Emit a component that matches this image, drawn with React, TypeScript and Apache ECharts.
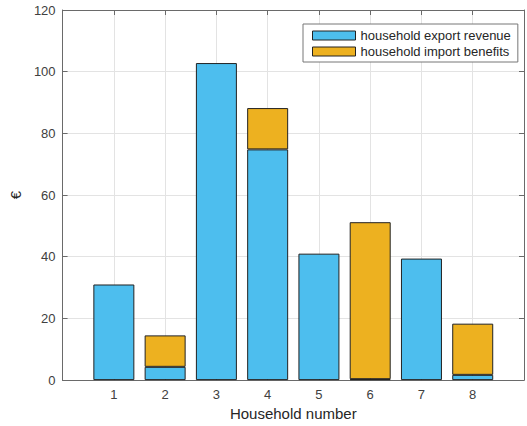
import React, { useEffect, useRef } from "react";
import * as echarts from "echarts";

const axisSlots = ["0", "1", "2", "3", "4", "5", "6", "7", "8", "9"];
const households = ["1", "2", "3", "4", "5", "6", "7", "8"];
const exportRevenue = [31, 4.3, 102.8, 74.8, 41, 0.3, 39.4, 1.7];
const importBenefits = [0, 10.2, 0, 13.4, 0, 50.9, 0, 16.6];
const yTicks = [0, 20, 40, 60, 80, 100, 120];

const FONT = "'Liberation Sans', Arial, Helvetica, sans-serif";
const AXIS = "#6a6a6a";
const LABEL = "#404040";
const GRID = "#e3e3e3";

function toSlots(values: number[]) {
  return axisSlots.map((s) => {
    const i = households.indexOf(s);
    return i >= 0 && values[i] !== 0 ? values[i] : "-";
  });
}

export default function App() {
  const ref = useRef<HTMLDivElement>(null);
  useEffect(() => {
    if (!ref.current) return;
    const chart = echarts.init(ref.current, undefined, { renderer: "svg" });
    const commonX = {
      type: "category" as const,
      data: axisSlots,
      boundaryGap: false,
    };
    const commonY = {
      type: "value" as const,
      min: yTicks[0],
      max: yTicks[yTicks.length - 1],
      interval: 20,
    };
    chart.setOption({
      animation: false,
      textStyle: { fontFamily: FONT },
      grid: { left: 59.5, top: 10, width: 469, height: 371, containLabel: false },
      legend: {
        orient: "vertical",
        left: 303,
        top: 24,
        itemWidth: 43,
        itemHeight: 9,
        itemGap: 3,
        padding: [5, 7, 4, 9],
        borderColor: "#777",
        borderWidth: 1,
        borderRadius: 0,
        backgroundColor: "#fff",
        icon: "rect",
        itemStyle: { borderColor: "#222", borderWidth: 1 },
        textStyle: { fontSize: 13, color: "#262626", fontFamily: FONT },
        data: ["household export revenue", "household import benefits"],
      },
      xAxis: [
        {
          ...commonX,
          position: "bottom",
          name: "Household number",
          nameLocation: "middle",
          nameGap: 24,
          nameTextStyle: { fontSize: 15, color: "#262626", fontFamily: FONT },
          axisLine: { show: true, onZero: false, lineStyle: { color: AXIS, width: 1 } },
          axisTick: { show: true, inside: true, length: 5, interval: 0, lineStyle: { color: AXIS } },
          axisLabel: {
            fontSize: 13,
            color: LABEL,
            margin: 8,
            interval: 0,
            fontFamily: FONT,
            formatter: (v: string) => (households.indexOf(v) >= 0 ? v : ""),
          },
          splitLine: { show: true, interval: 0, lineStyle: { color: GRID, width: 1 } },
        },
        {
          ...commonX,
          position: "top",
          axisLine: { show: true, onZero: false, lineStyle: { color: AXIS, width: 1 } },
          axisTick: { show: true, inside: true, length: 5, interval: 0, lineStyle: { color: AXIS } },
          axisLabel: { show: false },
          splitLine: { show: false },
        },
      ],
      yAxis: [
        {
          ...commonY,
          position: "left",
          name: "€",
          nameLocation: "middle",
          nameGap: 37,
          nameRotate: 90,
          nameTextStyle: { fontSize: 15, color: "#262626", fontFamily: FONT },
          axisLine: { show: true, onZero: false, lineStyle: { color: AXIS, width: 1 } },
          axisTick: { show: true, inside: true, length: 5, lineStyle: { color: AXIS } },
          axisLabel: { fontSize: 13, color: LABEL, margin: 7, fontFamily: FONT },
          splitLine: { show: true, lineStyle: { color: GRID, width: 1 } },
        },
        {
          ...commonY,
          position: "right",
          axisLine: { show: true, onZero: false, lineStyle: { color: AXIS, width: 1 } },
          axisTick: { show: true, inside: true, length: 5, lineStyle: { color: AXIS } },
          axisLabel: { show: false },
          splitLine: { show: false },
        },
      ],
      series: [
        {
          name: "household export revenue",
          type: "bar",
          stack: "total",
          xAxisIndex: 0,
          yAxisIndex: 0,
          barWidth: 41,
          itemStyle: { color: "#4DBEEE", borderColor: "#222", borderWidth: 1 },
          data: toSlots(exportRevenue),
        },
        {
          name: "household import benefits",
          type: "bar",
          stack: "total",
          xAxisIndex: 0,
          yAxisIndex: 0,
          barWidth: 41,
          itemStyle: { color: "#EDB120", borderColor: "#222", borderWidth: 1 },
          data: toSlots(importBenefits),
        },
      ],
    });
    return () => chart.dispose();
  }, []);
  return (
    <div
      ref={ref}
      style={{ position: "absolute", left: 0, top: 0, width: 527, height: 426 }}
    />
  );
}
